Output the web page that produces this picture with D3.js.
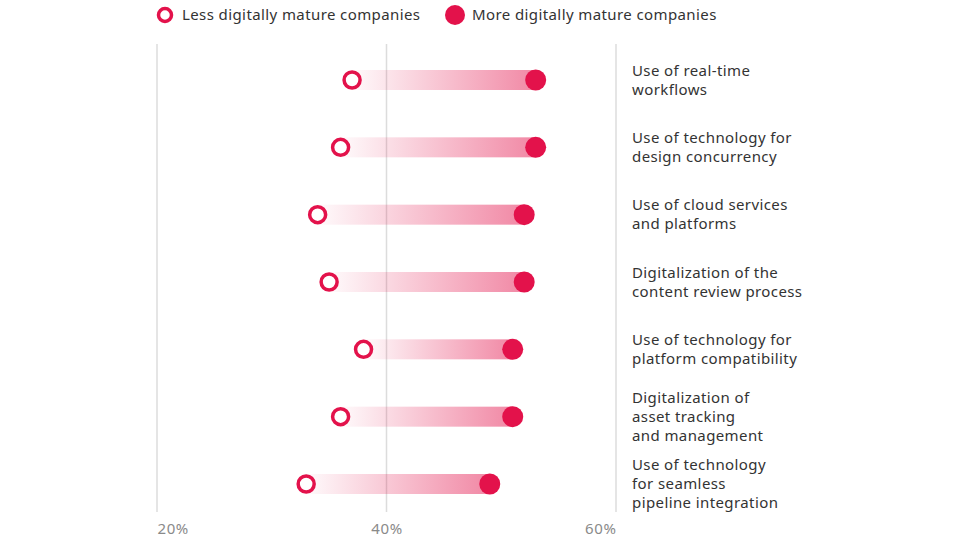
<!DOCTYPE html>
<html><head><meta charset="utf-8">
<script src="https://cdn.jsdelivr.net/npm/d3@7"></script>
<style>
body{margin:0;background:#fff;}
svg{display:block;font-family:"Noto Sans","Open Sans",sans-serif;}
</style></head>
<body><svg id="c" width="960" height="540"></svg>
<script>
const categories = [
  ["Use of real-time","workflows"],
  ["Use of technology for","design concurrency"],
  ["Use of cloud services","and platforms"],
  ["Digitalization of the","content review process"],
  ["Use of technology for","platform compatibility"],
  ["Digitalization of","asset tracking","and management"],
  ["Use of technology","for seamless","pipeline integration"]
];
const lessMature = [37, 36, 34, 35, 38, 36, 33];
const moreMature = [53, 53, 52, 52, 51, 51, 49];
const tickValues = [20, 40, 60];
const seriesNames = ["Less digitally mature companies","More digitally mature companies"];

const red = "#e3124b";
const svg = d3.select("#c");
const x = d3.scaleLinear().domain([20,60]).range([157,616]);
const y = d3.scalePoint().domain(d3.range(categories.length)).range([80,484]);

const defs = svg.append("defs");
const grad = defs.append("linearGradient").attr("id","g").attr("x1","0%").attr("x2","100%");
grad.append("stop").attr("offset","0%").attr("stop-color","#e3124b").attr("stop-opacity",0.02);
grad.append("stop").attr("offset","100%").attr("stop-color","#e3124b").attr("stop-opacity",0.5);

// grid
svg.append("g").selectAll("line").data(tickValues).join("line")
  .attr("x1",d=>x(d)).attr("x2",d=>x(d)).attr("y1",44).attr("y2",512)
  .attr("stroke","#dcdcdc").attr("stroke-width",1.5);

// axis labels
const axis = d3.axisBottom(x).tickValues(tickValues).tickFormat(d=>d+"%").tickSize(0);
const ag = svg.append("g").attr("transform","translate(0,520)").call(axis);
ag.select(".domain").remove();
ag.selectAll("text").attr("fill","#8a8a8a").attr("font-size",15)
  .attr("font-family","Noto Sans, sans-serif").attr("letter-spacing","0.6px")
  .attr("text-anchor",(d,i)=> i===0?"start":(i===tickValues.length-1?"end":"middle"));

// bars
const rows = svg.append("g").selectAll("g").data(categories.map((c,i)=>i)).join("g");
rows.append("rect")
  .attr("x",i=>x(lessMature[i])).attr("width",i=>x(moreMature[i])-x(lessMature[i]))
  .attr("y",i=>y(i)-10).attr("height",20).attr("fill","url(#g)");
rows.append("circle").attr("cx",i=>x(moreMature[i])).attr("cy",i=>y(i)).attr("r",10.5).attr("fill",red);
rows.append("circle").attr("cx",i=>x(lessMature[i])).attr("cy",i=>y(i)).attr("r",8).attr("fill","#fff")
  .attr("stroke",red).attr("stroke-width",3.5);

// labels
const lh = 19;
rows.append("text").attr("font-size",15).attr("fill","#333").attr("letter-spacing","0.4px")
  .each(function(i){
    const lines = categories[i];
    const t = d3.select(this);
    const y0 = y(i) - (lines.length-1)*lh/2;
    lines.forEach((l,k)=>{
      t.append("tspan").attr("x",632).attr("y",y0+k*lh).attr("dy","0.35em").text(l);
    });
  });

// legend
const lg = svg.append("g").attr("font-size",15).attr("fill","#333").attr("letter-spacing","0.4px");
lg.append("circle").attr("cx",165).attr("cy",15).attr("r",6.5).attr("fill","#fff").attr("stroke",red).attr("stroke-width",3.5);
lg.append("text").attr("x",182).attr("y",15).attr("dy","0.35em").text(seriesNames[0]);
lg.append("circle").attr("cx",455).attr("cy",15).attr("r",10).attr("fill",red);
lg.append("text").attr("x",472).attr("y",15).attr("dy","0.35em").text(seriesNames[1]);
</script></body></html>
